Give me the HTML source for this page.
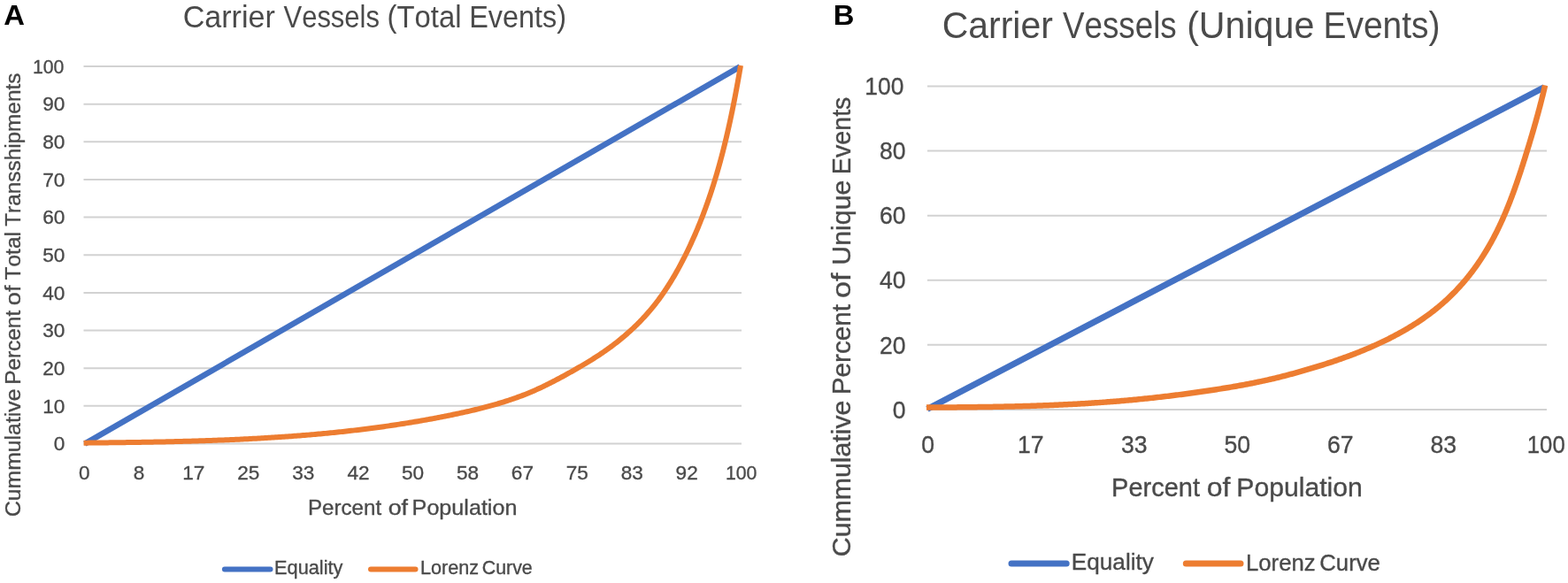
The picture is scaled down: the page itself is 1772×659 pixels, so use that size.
<!DOCTYPE html>
<html><head><meta charset="utf-8"><title>Carrier Vessels Lorenz Curves</title>
<style>
html,body{margin:0;padding:0;background:#fff;}
body{width:1772px;height:659px;overflow:hidden;}
svg{display:block;}
text{font-family:'Liberation Sans', Arial, sans-serif;fill:#4a4a4a;font-kerning:none;}
.ta{font-size:21.8px;}
.tb{font-size:26.5px;}
</style></head>
<body>
<svg width="1772" height="659" viewBox="0 0 1772 659">
<rect width="1772" height="659" fill="#fff"/>
<line x1="94.5" y1="75.00" x2="838.0" y2="75.00" stroke="#d2d2d2" stroke-width="2"/>
<line x1="94.5" y1="117.65" x2="838.0" y2="117.65" stroke="#d2d2d2" stroke-width="2"/>
<line x1="94.5" y1="160.30" x2="838.0" y2="160.30" stroke="#d2d2d2" stroke-width="2"/>
<line x1="94.5" y1="202.95" x2="838.0" y2="202.95" stroke="#d2d2d2" stroke-width="2"/>
<line x1="94.5" y1="245.60" x2="838.0" y2="245.60" stroke="#d2d2d2" stroke-width="2"/>
<line x1="94.5" y1="288.25" x2="838.0" y2="288.25" stroke="#d2d2d2" stroke-width="2"/>
<line x1="94.5" y1="330.90" x2="838.0" y2="330.90" stroke="#d2d2d2" stroke-width="2"/>
<line x1="94.5" y1="373.55" x2="838.0" y2="373.55" stroke="#d2d2d2" stroke-width="2"/>
<line x1="94.5" y1="416.20" x2="838.0" y2="416.20" stroke="#d2d2d2" stroke-width="2"/>
<line x1="94.5" y1="458.85" x2="838.0" y2="458.85" stroke="#d2d2d2" stroke-width="2"/>
<line x1="94.5" y1="501.50" x2="838.0" y2="501.50" stroke="#d2d2d2" stroke-width="2"/>
<text x="36.99" y="82.78" style="font-size:22.6px;stroke:#4a4a4a;stroke-width:0.35px" textLength="35.44" lengthAdjust="spacingAndGlyphs">100</text>
<text x="48.14" y="125.43" style="font-size:22.6px;stroke:#4a4a4a;stroke-width:0.35px" textLength="25.14" lengthAdjust="spacingAndGlyphs">90</text>
<text x="48.14" y="168.08" style="font-size:22.6px;stroke:#4a4a4a;stroke-width:0.35px" textLength="25.14" lengthAdjust="spacingAndGlyphs">80</text>
<text x="48.14" y="210.73" style="font-size:22.6px;stroke:#4a4a4a;stroke-width:0.35px" textLength="25.14" lengthAdjust="spacingAndGlyphs">70</text>
<text x="48.14" y="253.38" style="font-size:22.6px;stroke:#4a4a4a;stroke-width:0.35px" textLength="25.14" lengthAdjust="spacingAndGlyphs">60</text>
<text x="48.14" y="296.03" style="font-size:22.6px;stroke:#4a4a4a;stroke-width:0.35px" textLength="25.14" lengthAdjust="spacingAndGlyphs">50</text>
<text x="48.14" y="338.68" style="font-size:22.6px;stroke:#4a4a4a;stroke-width:0.35px" textLength="25.14" lengthAdjust="spacingAndGlyphs">40</text>
<text x="48.14" y="381.33" style="font-size:22.6px;stroke:#4a4a4a;stroke-width:0.35px" textLength="25.14" lengthAdjust="spacingAndGlyphs">30</text>
<text x="48.14" y="423.98" style="font-size:22.6px;stroke:#4a4a4a;stroke-width:0.35px" textLength="25.14" lengthAdjust="spacingAndGlyphs">20</text>
<text x="48.14" y="466.63" style="font-size:22.6px;stroke:#4a4a4a;stroke-width:0.35px" textLength="25.14" lengthAdjust="spacingAndGlyphs">10</text>
<text x="60.71" y="509.28" style="font-size:22.6px;stroke:#4a4a4a;stroke-width:0.35px" textLength="12.57" lengthAdjust="spacingAndGlyphs">0</text>
<text x="88.92" y="541.58" style="font-size:22.6px;stroke:#4a4a4a;stroke-width:0.35px" textLength="12.57" lengthAdjust="spacingAndGlyphs">0</text>
<text x="150.82" y="541.58" style="font-size:22.6px;stroke:#4a4a4a;stroke-width:0.35px" textLength="12.57" lengthAdjust="spacingAndGlyphs">8</text>
<text x="206.14" y="541.58" style="font-size:22.6px;stroke:#4a4a4a;stroke-width:0.35px" textLength="25.14" lengthAdjust="spacingAndGlyphs">17</text>
<text x="268.24" y="541.58" style="font-size:22.6px;stroke:#4a4a4a;stroke-width:0.35px" textLength="25.14" lengthAdjust="spacingAndGlyphs">25</text>
<text x="330.30" y="541.58" style="font-size:22.6px;stroke:#4a4a4a;stroke-width:0.35px" textLength="25.14" lengthAdjust="spacingAndGlyphs">33</text>
<text x="392.44" y="541.58" style="font-size:22.6px;stroke:#4a4a4a;stroke-width:0.35px" textLength="25.14" lengthAdjust="spacingAndGlyphs">42</text>
<text x="454.02" y="541.58" style="font-size:22.6px;stroke:#4a4a4a;stroke-width:0.35px" textLength="25.14" lengthAdjust="spacingAndGlyphs">50</text>
<text x="515.97" y="541.58" style="font-size:22.6px;stroke:#4a4a4a;stroke-width:0.35px" textLength="25.14" lengthAdjust="spacingAndGlyphs">58</text>
<text x="577.83" y="541.58" style="font-size:22.6px;stroke:#4a4a4a;stroke-width:0.35px" textLength="25.14" lengthAdjust="spacingAndGlyphs">67</text>
<text x="639.63" y="541.58" style="font-size:22.6px;stroke:#4a4a4a;stroke-width:0.35px" textLength="25.14" lengthAdjust="spacingAndGlyphs">75</text>
<text x="701.64" y="541.58" style="font-size:22.6px;stroke:#4a4a4a;stroke-width:0.35px" textLength="25.14" lengthAdjust="spacingAndGlyphs">83</text>
<text x="763.57" y="541.58" style="font-size:22.6px;stroke:#4a4a4a;stroke-width:0.35px" textLength="25.14" lengthAdjust="spacingAndGlyphs">92</text>
<text x="819.88" y="541.58" style="font-size:22.6px;stroke:#4a4a4a;stroke-width:0.35px" textLength="35.44" lengthAdjust="spacingAndGlyphs">100</text>
<text x="206.67" y="30.90" style="font-size:35.5px" textLength="104.20" lengthAdjust="spacingAndGlyphs">Carrier</text>
<text x="320.56" y="30.90" style="font-size:35.5px" textLength="108.35" lengthAdjust="spacingAndGlyphs">Vessels</text>
<text x="437.46" y="30.90" style="font-size:35.5px" textLength="84.04" lengthAdjust="spacingAndGlyphs">(Total</text>
<text x="530.24" y="30.90" style="font-size:35.5px" textLength="109.87" lengthAdjust="spacingAndGlyphs">Events)</text>
<text x="348.02" y="581.80" style="font-size:24.8px;stroke:#4a4a4a;stroke-width:0.35px" textLength="83.16" lengthAdjust="spacingAndGlyphs">Percent</text>
<text x="438.67" y="581.80" style="font-size:24.8px;stroke:#4a4a4a;stroke-width:0.35px" textLength="22.39" lengthAdjust="spacingAndGlyphs">of</text>
<text x="465.64" y="581.80" style="font-size:24.8px;stroke:#4a4a4a;stroke-width:0.35px" textLength="118.79" lengthAdjust="spacingAndGlyphs">Population</text>
<text transform="translate(22.60,0) rotate(-90)" x="-584.06" y="0" style="font-size:24.8px;stroke:#4a4a4a;stroke-width:0.35px" textLength="144.46" lengthAdjust="spacingAndGlyphs">Cummulative</text>
<text transform="translate(22.60,0) rotate(-90)" x="-434.80" y="0" style="font-size:24.8px;stroke:#4a4a4a;stroke-width:0.35px" textLength="83.98" lengthAdjust="spacingAndGlyphs">Percent</text>
<text transform="translate(22.60,0) rotate(-90)" x="-345.24" y="0" style="font-size:24.8px;stroke:#4a4a4a;stroke-width:0.35px" textLength="22.70" lengthAdjust="spacingAndGlyphs">of</text>
<text transform="translate(22.60,0) rotate(-90)" x="-316.45" y="0" style="font-size:24.8px;stroke:#4a4a4a;stroke-width:0.35px" textLength="54.39" lengthAdjust="spacingAndGlyphs">Total</text>
<text transform="translate(22.60,0) rotate(-90)" x="-255.75" y="0" style="font-size:24.8px;stroke:#4a4a4a;stroke-width:0.35px" textLength="173.13" lengthAdjust="spacingAndGlyphs">Transshipments</text>
<line x1="95.8" y1="501.6" x2="836.3" y2="75.4" stroke="#4472c4" stroke-width="6.5"/>
<path d="M94.60,500.68 L96.54,500.66 L98.48,500.64 L100.43,500.62 L102.37,500.60 L104.31,500.58 L106.26,500.56 L108.20,500.54 L110.15,500.52 L112.09,500.50 L114.04,500.48 L115.98,500.46 L117.93,500.44 L119.88,500.41 L121.82,500.39 L123.77,500.37 L125.72,500.35 L127.66,500.32 L129.61,500.30 L131.56,500.27 L133.51,500.25 L135.46,500.22 L137.40,500.20 L139.35,500.17 L141.30,500.15 L143.25,500.12 L145.20,500.09 L147.15,500.06 L149.10,500.04 L151.05,500.01 L153.00,499.98 L154.95,499.95 L156.90,499.92 L158.85,499.89 L160.81,499.85 L162.76,499.82 L164.71,499.79 L166.66,499.76 L168.61,499.72 L170.56,499.69 L172.52,499.65 L174.47,499.61 L176.42,499.58 L178.37,499.54 L180.33,499.50 L182.28,499.46 L184.23,499.42 L186.19,499.38 L188.14,499.34 L190.09,499.29 L192.05,499.25 L194.00,499.21 L195.96,499.16 L197.91,499.12 L199.86,499.07 L201.82,499.02 L203.77,498.97 L205.73,498.92 L207.68,498.87 L209.64,498.82 L211.59,498.76 L213.55,498.71 L215.50,498.66 L217.45,498.60 L219.41,498.54 L221.36,498.48 L223.32,498.42 L225.27,498.36 L227.23,498.30 L229.18,498.24 L231.14,498.18 L233.10,498.11 L235.05,498.04 L237.01,497.98 L238.96,497.91 L240.92,497.84 L242.87,497.77 L244.83,497.69 L246.78,497.62 L248.74,497.54 L250.69,497.47 L252.65,497.39 L254.60,497.31 L256.56,497.23 L258.51,497.15 L260.47,497.06 L262.42,496.98 L264.38,496.89 L266.33,496.81 L268.29,496.72 L270.24,496.63 L272.20,496.53 L274.15,496.44 L276.11,496.35 L278.06,496.25 L280.01,496.15 L281.97,496.05 L283.92,495.95 L285.88,495.85 L287.83,495.74 L289.78,495.64 L291.74,495.53 L293.69,495.42 L295.65,495.31 L297.60,495.19 L299.55,495.08 L301.51,494.96 L303.46,494.85 L305.41,494.73 L307.36,494.60 L309.32,494.48 L311.27,494.36 L313.22,494.23 L315.17,494.10 L317.13,493.97 L319.08,493.84 L321.03,493.70 L322.98,493.57 L324.93,493.43 L326.88,493.29 L328.83,493.15 L330.78,493.00 L332.73,492.86 L334.68,492.71 L336.63,492.56 L338.58,492.41 L340.53,492.25 L342.48,492.10 L344.43,491.94 L346.38,491.78 L348.33,491.62 L350.28,491.45 L352.23,491.29 L354.17,491.12 L356.12,490.95 L358.07,490.77 L360.02,490.60 L361.96,490.42 L363.91,490.24 L365.86,490.06 L367.80,489.88 L369.75,489.69 L371.69,489.50 L373.64,489.31 L375.58,489.12 L377.53,488.92 L379.47,488.72 L381.41,488.52 L383.36,488.32 L385.30,488.12 L387.24,487.91 L389.19,487.70 L391.13,487.49 L393.07,487.27 L395.01,487.05 L396.95,486.84 L398.89,486.61 L400.83,486.39 L402.77,486.16 L404.71,485.93 L406.65,485.70 L408.59,485.47 L410.53,485.23 L412.47,484.99 L414.41,484.75 L416.34,484.50 L418.28,484.25 L420.22,484.00 L422.15,483.75 L424.09,483.49 L426.02,483.23 L427.96,482.97 L429.89,482.71 L431.83,482.44 L433.76,482.17 L435.69,481.90 L437.63,481.63 L439.56,481.35 L441.49,481.07 L443.42,480.78 L445.35,480.50 L447.28,480.21 L449.21,479.91 L451.14,479.62 L453.07,479.32 L455.00,479.02 L456.93,478.72 L458.85,478.41 L460.78,478.10 L462.71,477.79 L464.63,477.47 L466.56,477.15 L468.48,476.83 L470.41,476.50 L472.33,476.18 L474.25,475.84 L476.18,475.51 L478.10,475.17 L480.02,474.83 L481.94,474.49 L483.86,474.14 L485.78,473.79 L487.70,473.44 L489.62,473.08 L491.54,472.72 L493.45,472.36 L495.37,471.99 L497.29,471.62 L499.20,471.25 L501.12,470.87 L503.03,470.49 L504.95,470.11 L506.86,469.72 L508.77,469.33 L510.69,468.94 L512.60,468.54 L514.51,468.15 L516.42,467.74 L518.33,467.33 L520.24,466.92 L522.15,466.51 L524.05,466.09 L525.96,465.67 L527.86,465.24 L529.77,464.81 L531.67,464.37 L533.57,463.93 L535.47,463.48 L537.37,463.03 L539.27,462.57 L541.16,462.11 L543.05,461.64 L544.95,461.16 L546.84,460.68 L548.72,460.19 L550.61,459.69 L552.49,459.18 L554.37,458.67 L556.25,458.15 L558.13,457.63 L560.00,457.09 L561.87,456.55 L563.74,456.00 L565.61,455.44 L567.47,454.88 L569.33,454.30 L571.19,453.72 L573.04,453.12 L574.89,452.52 L576.74,451.90 L578.58,451.28 L580.42,450.65 L582.26,450.01 L584.10,449.35 L585.93,448.69 L587.75,448.01 L589.58,447.33 L591.39,446.63 L593.21,445.92 L595.02,445.20 L596.83,444.47 L598.63,443.73 L600.43,442.97 L602.22,442.20 L604.01,441.42 L605.80,440.63 L607.58,439.83 L609.35,439.01 L611.13,438.19 L612.89,437.35 L614.66,436.51 L616.42,435.65 L618.18,434.79 L619.93,433.92 L621.68,433.04 L623.43,432.15 L625.17,431.25 L626.91,430.35 L628.64,429.44 L630.38,428.52 L632.11,427.60 L633.83,426.67 L635.56,425.74 L637.28,424.80 L639.00,423.85 L640.71,422.91 L642.43,421.96 L644.14,421.00 L645.85,420.05 L647.55,419.09 L649.25,418.12 L650.95,417.15 L652.65,416.18 L654.34,415.21 L656.03,414.23 L657.72,413.24 L659.40,412.25 L661.08,411.25 L662.75,410.25 L664.42,409.24 L666.08,408.23 L667.74,407.20 L669.39,406.17 L671.04,405.14 L672.68,404.09 L674.32,403.04 L675.95,401.98 L677.58,400.91 L679.20,399.83 L680.81,398.74 L682.41,397.64 L684.01,396.53 L685.60,395.41 L687.19,394.28 L688.76,393.14 L690.33,391.99 L691.89,390.83 L693.44,389.66 L694.99,388.48 L696.53,387.29 L698.06,386.09 L699.58,384.87 L701.09,383.65 L702.59,382.41 L704.09,381.17 L705.57,379.91 L707.05,378.65 L708.52,377.37 L709.97,376.09 L711.42,374.79 L712.86,373.48 L714.29,372.16 L715.71,370.83 L717.12,369.49 L718.52,368.14 L719.90,366.78 L721.28,365.41 L722.65,364.03 L724.00,362.64 L725.35,361.24 L726.68,359.82 L728.01,358.40 L729.32,356.97 L730.62,355.52 L731.91,354.06 L733.19,352.60 L734.45,351.12 L735.70,349.63 L736.95,348.14 L738.17,346.63 L739.39,345.11 L740.60,343.58 L741.79,342.04 L742.97,340.49 L744.14,338.93 L745.30,337.36 L746.44,335.79 L747.58,334.20 L748.70,332.61 L749.81,331.00 L750.91,329.39 L752.01,327.77 L753.09,326.14 L754.16,324.51 L755.21,322.87 L756.26,321.21 L757.30,319.56 L758.33,317.89 L759.35,316.22 L760.36,314.54 L761.36,312.86 L762.35,311.17 L763.33,309.48 L764.30,307.77 L765.27,306.07 L766.22,304.35 L767.16,302.64 L768.10,300.92 L769.03,299.19 L769.95,297.46 L770.86,295.72 L771.76,293.98 L772.65,292.24 L773.54,290.49 L774.42,288.74 L775.29,286.99 L776.15,285.23 L777.01,283.47 L777.85,281.71 L778.69,279.95 L779.53,278.18 L780.35,276.41 L781.17,274.63 L781.98,272.86 L782.79,271.08 L783.58,269.29 L784.37,267.51 L785.15,265.72 L785.93,263.93 L786.70,262.13 L787.46,260.34 L788.21,258.54 L788.96,256.74 L789.70,254.93 L790.44,253.13 L791.16,251.32 L791.88,249.50 L792.60,247.69 L793.31,245.87 L794.01,244.05 L794.70,242.23 L795.39,240.41 L796.07,238.58 L796.75,236.75 L797.42,234.92 L798.08,233.09 L798.74,231.25 L799.39,229.41 L800.04,227.58 L800.68,225.73 L801.31,223.89 L801.94,222.04 L802.56,220.19 L803.18,218.34 L803.79,216.49 L804.39,214.64 L804.99,212.78 L805.58,210.92 L806.17,209.06 L806.75,207.20 L807.33,205.34 L807.90,203.47 L808.47,201.61 L809.03,199.74 L809.59,197.87 L810.14,196.00 L810.68,194.12 L811.23,192.25 L811.76,190.37 L812.29,188.49 L812.82,186.61 L813.34,184.73 L813.86,182.85 L814.37,180.96 L814.87,179.08 L815.38,177.19 L815.87,175.30 L816.37,173.41 L816.86,171.52 L817.34,169.63 L817.82,167.73 L818.30,165.84 L818.77,163.94 L819.23,162.04 L819.70,160.15 L820.16,158.25 L820.61,156.35 L821.06,154.45 L821.51,152.54 L821.95,150.64 L822.39,148.73 L822.82,146.83 L823.26,144.92 L823.68,143.02 L824.11,141.11 L824.53,139.20 L824.94,137.29 L825.36,135.38 L825.77,133.47 L826.17,131.56 L826.58,129.64 L826.98,127.73 L827.37,125.82 L827.76,123.90 L828.15,121.99 L828.54,120.07 L828.92,118.16 L829.31,116.24 L829.68,114.33 L830.06,112.41 L830.43,110.49 L830.80,108.57 L831.17,106.66 L831.53,104.74 L831.89,102.82 L832.25,100.90 L832.60,98.98 L832.96,97.06 L833.31,95.14 L833.66,93.22 L834.00,91.31 L834.35,89.39 L834.69,87.47 L835.03,85.55 L835.36,83.63 L835.70,81.71 L836.03,79.79 L836.36,77.87 L836.69,75.95 L837.02,74.03" fill="none" stroke="#ed7d31" stroke-width="6" stroke-linejoin="round"/>
<line x1="253.9" y1="643.5" x2="305.5" y2="643.5" stroke="#4472c4" stroke-width="6" stroke-linecap="round"/>
<text x="310.12" y="649.40" style="font-size:21.5px;stroke:#4a4a4a;stroke-width:0.35px" textLength="77.33" lengthAdjust="spacingAndGlyphs">Equality</text>
<line x1="419" y1="643.5" x2="469.5" y2="643.5" stroke="#ed7d31" stroke-width="6" stroke-linecap="round"/>
<text x="474.93" y="649.30" style="font-size:21.5px;stroke:#4a4a4a;stroke-width:0.35px" textLength="66.05" lengthAdjust="spacingAndGlyphs">Lorenz</text>
<text x="544.71" y="649.30" style="font-size:21.5px;stroke:#4a4a4a;stroke-width:0.35px" textLength="57.04" lengthAdjust="spacingAndGlyphs">Curve</text>
<text x="4.18" y="28.00" style="font-size:31.5px;font-weight:bold;fill:#000" textLength="23.68" lengthAdjust="spacingAndGlyphs">A</text>
<line x1="1048.0" y1="97.50" x2="1748.0" y2="97.50" stroke="#d2d2d2" stroke-width="2"/>
<line x1="1048.0" y1="170.58" x2="1748.0" y2="170.58" stroke="#d2d2d2" stroke-width="2"/>
<line x1="1048.0" y1="243.66" x2="1748.0" y2="243.66" stroke="#d2d2d2" stroke-width="2"/>
<line x1="1048.0" y1="316.74" x2="1748.0" y2="316.74" stroke="#d2d2d2" stroke-width="2"/>
<line x1="1048.0" y1="389.82" x2="1748.0" y2="389.82" stroke="#d2d2d2" stroke-width="2"/>
<line x1="1048.0" y1="462.90" x2="1748.0" y2="462.90" stroke="#d2d2d2" stroke-width="2"/>
<text x="977.29" y="107.24" style="font-size:28.3px;stroke:#4a4a4a;stroke-width:0.35px" textLength="44.15" lengthAdjust="spacingAndGlyphs">100</text>
<text x="994.05" y="180.32" style="font-size:28.3px;stroke:#4a4a4a;stroke-width:0.35px" textLength="29.59" lengthAdjust="spacingAndGlyphs">80</text>
<text x="994.05" y="253.40" style="font-size:28.3px;stroke:#4a4a4a;stroke-width:0.35px" textLength="29.59" lengthAdjust="spacingAndGlyphs">60</text>
<text x="994.05" y="326.48" style="font-size:28.3px;stroke:#4a4a4a;stroke-width:0.35px" textLength="29.59" lengthAdjust="spacingAndGlyphs">40</text>
<text x="994.05" y="399.56" style="font-size:28.3px;stroke:#4a4a4a;stroke-width:0.35px" textLength="29.59" lengthAdjust="spacingAndGlyphs">20</text>
<text x="1008.84" y="472.64" style="font-size:28.3px;stroke:#4a4a4a;stroke-width:0.35px" textLength="14.79" lengthAdjust="spacingAndGlyphs">0</text>
<text x="1041.30" y="512.04" style="font-size:28.3px;stroke:#4a4a4a;stroke-width:0.35px" textLength="14.79" lengthAdjust="spacingAndGlyphs">0</text>
<text x="1150.06" y="512.04" style="font-size:28.3px;stroke:#4a4a4a;stroke-width:0.35px" textLength="29.59" lengthAdjust="spacingAndGlyphs">17</text>
<text x="1266.98" y="512.04" style="font-size:28.3px;stroke:#4a4a4a;stroke-width:0.35px" textLength="29.59" lengthAdjust="spacingAndGlyphs">33</text>
<text x="1383.39" y="512.04" style="font-size:28.3px;stroke:#4a4a4a;stroke-width:0.35px" textLength="29.59" lengthAdjust="spacingAndGlyphs">50</text>
<text x="1499.90" y="512.04" style="font-size:28.3px;stroke:#4a4a4a;stroke-width:0.35px" textLength="29.59" lengthAdjust="spacingAndGlyphs">67</text>
<text x="1616.41" y="512.04" style="font-size:28.3px;stroke:#4a4a4a;stroke-width:0.35px" textLength="29.59" lengthAdjust="spacingAndGlyphs">83</text>
<text x="1725.74" y="512.04" style="font-size:28.3px;stroke:#4a4a4a;stroke-width:0.35px" textLength="42.97" lengthAdjust="spacingAndGlyphs">100</text>
<text x="1064.72" y="43.30" style="font-size:42.5px" textLength="125.16" lengthAdjust="spacingAndGlyphs">Carrier</text>
<text x="1200.94" y="43.30" style="font-size:42.5px" textLength="128.79" lengthAdjust="spacingAndGlyphs">Vessels</text>
<text x="1341.15" y="43.30" style="font-size:42.5px" textLength="144.18" lengthAdjust="spacingAndGlyphs">(Unique</text>
<text x="1495.51" y="43.30" style="font-size:42.5px" textLength="132.01" lengthAdjust="spacingAndGlyphs">Events)</text>
<text x="1256.12" y="560.90" style="font-size:29.6px;stroke:#4a4a4a;stroke-width:0.35px" textLength="99.89" lengthAdjust="spacingAndGlyphs">Percent</text>
<text x="1363.76" y="560.90" style="font-size:29.6px;stroke:#4a4a4a;stroke-width:0.35px" textLength="26.70" lengthAdjust="spacingAndGlyphs">of</text>
<text x="1397.33" y="560.90" style="font-size:29.6px;stroke:#4a4a4a;stroke-width:0.35px" textLength="142.43" lengthAdjust="spacingAndGlyphs">Population</text>
<text transform="translate(961.30,0) rotate(-90)" x="-629.24" y="0" style="font-size:29.6px;stroke:#4a4a4a;stroke-width:0.35px" textLength="176.68" lengthAdjust="spacingAndGlyphs">Cummulative</text>
<text transform="translate(961.30,0) rotate(-90)" x="-446.24" y="0" style="font-size:29.6px;stroke:#4a4a4a;stroke-width:0.35px" textLength="102.35" lengthAdjust="spacingAndGlyphs">Percent</text>
<text transform="translate(961.30,0) rotate(-90)" x="-337.03" y="0" style="font-size:29.6px;stroke:#4a4a4a;stroke-width:0.35px" textLength="28.48" lengthAdjust="spacingAndGlyphs">of</text>
<text transform="translate(961.30,0) rotate(-90)" x="-299.74" y="0" style="font-size:29.6px;stroke:#4a4a4a;stroke-width:0.35px" textLength="96.09" lengthAdjust="spacingAndGlyphs">Unique</text>
<text transform="translate(961.30,0) rotate(-90)" x="-197.15" y="0" style="font-size:29.6px;stroke:#4a4a4a;stroke-width:0.35px" textLength="87.59" lengthAdjust="spacingAndGlyphs">Events</text>
<line x1="1048" y1="462.3" x2="1745.2" y2="98.6" stroke="#4472c4" stroke-width="7"/>
<path d="M1047.00,460.57 L1048.76,460.57 L1050.53,460.56 L1052.30,460.55 L1054.07,460.54 L1055.84,460.54 L1057.61,460.53 L1059.38,460.52 L1061.14,460.51 L1062.91,460.50 L1064.68,460.49 L1066.45,460.48 L1068.22,460.47 L1069.99,460.46 L1071.75,460.44 L1073.52,460.43 L1075.29,460.42 L1077.06,460.41 L1078.83,460.39 L1080.60,460.38 L1082.37,460.36 L1084.13,460.35 L1085.90,460.33 L1087.67,460.32 L1089.44,460.30 L1091.21,460.28 L1092.97,460.27 L1094.74,460.25 L1096.51,460.23 L1098.28,460.21 L1100.05,460.19 L1101.82,460.17 L1103.58,460.14 L1105.35,460.12 L1107.12,460.10 L1108.89,460.07 L1110.66,460.05 L1112.42,460.02 L1114.19,460.00 L1115.96,459.97 L1117.73,459.94 L1119.50,459.91 L1121.26,459.88 L1123.03,459.85 L1124.80,459.82 L1126.57,459.79 L1128.33,459.76 L1130.10,459.72 L1131.87,459.69 L1133.64,459.65 L1135.40,459.62 L1137.17,459.58 L1138.94,459.54 L1140.71,459.50 L1142.47,459.46 L1144.24,459.42 L1146.01,459.38 L1147.78,459.33 L1149.54,459.29 L1151.31,459.24 L1153.08,459.19 L1154.84,459.15 L1156.61,459.10 L1158.38,459.05 L1160.14,458.99 L1161.91,458.94 L1163.68,458.89 L1165.44,458.83 L1167.21,458.78 L1168.98,458.72 L1170.74,458.66 L1172.51,458.60 L1174.28,458.54 L1176.04,458.48 L1177.81,458.41 L1179.57,458.35 L1181.34,458.28 L1183.11,458.21 L1184.87,458.14 L1186.64,458.07 L1188.40,458.00 L1190.17,457.93 L1191.93,457.85 L1193.70,457.78 L1195.47,457.70 L1197.23,457.62 L1199.00,457.54 L1200.76,457.46 L1202.53,457.37 L1204.29,457.29 L1206.06,457.20 L1207.82,457.11 L1209.59,457.02 L1211.35,456.93 L1213.12,456.84 L1214.88,456.74 L1216.65,456.65 L1218.41,456.55 L1220.17,456.45 L1221.94,456.35 L1223.70,456.25 L1225.47,456.14 L1227.23,456.04 L1228.99,455.93 L1230.76,455.82 L1232.52,455.71 L1234.29,455.59 L1236.05,455.48 L1237.81,455.36 L1239.58,455.24 L1241.34,455.12 L1243.10,455.00 L1244.87,454.88 L1246.63,454.75 L1248.39,454.62 L1250.15,454.49 L1251.92,454.36 L1253.68,454.23 L1255.44,454.09 L1257.20,453.96 L1258.97,453.82 L1260.73,453.68 L1262.49,453.53 L1264.25,453.39 L1266.01,453.24 L1267.78,453.09 L1269.54,452.94 L1271.30,452.79 L1273.06,452.63 L1274.82,452.47 L1276.58,452.31 L1278.34,452.15 L1280.10,451.99 L1281.86,451.82 L1283.63,451.65 L1285.39,451.48 L1287.15,451.31 L1288.91,451.14 L1290.67,450.96 L1292.43,450.78 L1294.18,450.60 L1295.94,450.42 L1297.70,450.24 L1299.46,450.05 L1301.22,449.86 L1302.98,449.67 L1304.74,449.48 L1306.50,449.29 L1308.25,449.09 L1310.01,448.89 L1311.77,448.69 L1313.53,448.49 L1315.28,448.29 L1317.04,448.08 L1318.80,447.87 L1320.55,447.66 L1322.31,447.45 L1324.07,447.24 L1325.82,447.02 L1327.58,446.80 L1329.33,446.58 L1331.09,446.36 L1332.84,446.14 L1334.59,445.91 L1336.35,445.68 L1338.10,445.45 L1339.86,445.22 L1341.61,444.99 L1343.36,444.75 L1345.11,444.51 L1346.87,444.27 L1348.62,444.03 L1350.37,443.79 L1352.12,443.54 L1353.87,443.30 L1355.62,443.05 L1357.37,442.80 L1359.12,442.54 L1360.87,442.29 L1362.62,442.03 L1364.37,441.78 L1366.11,441.51 L1367.86,441.25 L1369.61,440.99 L1371.36,440.72 L1373.10,440.45 L1374.85,440.18 L1376.59,439.91 L1378.34,439.64 L1380.08,439.36 L1381.83,439.08 L1383.57,438.80 L1385.31,438.51 L1387.06,438.22 L1388.80,437.93 L1390.54,437.64 L1392.28,437.34 L1394.02,437.04 L1395.76,436.74 L1397.50,436.44 L1399.24,436.13 L1400.97,435.82 L1402.71,435.50 L1404.45,435.18 L1406.18,434.86 L1407.92,434.53 L1409.65,434.20 L1411.38,433.87 L1413.11,433.53 L1414.85,433.19 L1416.58,432.85 L1418.30,432.50 L1420.03,432.14 L1421.76,431.79 L1423.49,431.43 L1425.21,431.06 L1426.94,430.69 L1428.66,430.31 L1430.39,429.94 L1432.11,429.55 L1433.83,429.16 L1435.55,428.77 L1437.27,428.37 L1438.98,427.97 L1440.70,427.56 L1442.42,427.15 L1444.13,426.73 L1445.84,426.30 L1447.56,425.88 L1449.27,425.44 L1450.98,425.01 L1452.69,424.57 L1454.40,424.12 L1456.11,423.67 L1457.81,423.22 L1459.52,422.76 L1461.23,422.30 L1462.93,421.83 L1464.63,421.36 L1466.34,420.89 L1468.04,420.41 L1469.74,419.93 L1471.44,419.45 L1473.14,418.96 L1474.84,418.47 L1476.54,417.98 L1478.24,417.48 L1479.94,416.98 L1481.64,416.48 L1483.33,415.97 L1485.03,415.46 L1486.73,414.94 L1488.42,414.43 L1490.11,413.91 L1491.80,413.38 L1493.50,412.85 L1495.19,412.32 L1496.87,411.78 L1498.56,411.24 L1500.25,410.70 L1501.93,410.15 L1503.62,409.59 L1505.30,409.04 L1506.98,408.47 L1508.66,407.91 L1510.33,407.33 L1512.01,406.76 L1513.68,406.18 L1515.36,405.59 L1517.03,405.00 L1518.69,404.41 L1520.36,403.80 L1522.02,403.20 L1523.69,402.59 L1525.35,401.97 L1527.00,401.35 L1528.66,400.72 L1530.31,400.09 L1531.96,399.45 L1533.61,398.81 L1535.26,398.16 L1536.90,397.50 L1538.55,396.84 L1540.18,396.17 L1541.82,395.50 L1543.45,394.82 L1545.08,394.13 L1546.71,393.44 L1548.34,392.74 L1549.96,392.04 L1551.58,391.32 L1553.19,390.61 L1554.81,389.88 L1556.42,389.15 L1558.02,388.41 L1559.63,387.67 L1561.23,386.91 L1562.82,386.15 L1564.42,385.39 L1566.01,384.61 L1567.59,383.83 L1569.17,383.04 L1570.75,382.25 L1572.33,381.45 L1573.90,380.63 L1575.47,379.82 L1577.03,378.99 L1578.59,378.16 L1580.15,377.31 L1581.70,376.46 L1583.24,375.61 L1584.79,374.74 L1586.32,373.87 L1587.86,372.98 L1589.38,372.09 L1590.90,371.20 L1592.42,370.29 L1593.93,369.37 L1595.44,368.45 L1596.94,367.51 L1598.43,366.57 L1599.92,365.62 L1601.40,364.66 L1602.88,363.69 L1604.35,362.72 L1605.81,361.73 L1607.27,360.73 L1608.72,359.73 L1610.17,358.71 L1611.60,357.69 L1613.03,356.66 L1614.46,355.61 L1615.87,354.56 L1617.28,353.50 L1618.68,352.43 L1620.08,351.34 L1621.46,350.25 L1622.84,349.15 L1624.21,348.04 L1625.57,346.92 L1626.93,345.78 L1628.27,344.64 L1629.61,343.49 L1630.94,342.33 L1632.26,341.15 L1633.57,339.97 L1634.87,338.78 L1636.17,337.58 L1637.45,336.37 L1638.73,335.14 L1639.99,333.91 L1641.25,332.67 L1642.50,331.42 L1643.74,330.17 L1644.97,328.90 L1646.19,327.62 L1647.40,326.34 L1648.61,325.04 L1649.80,323.74 L1650.98,322.43 L1652.15,321.10 L1653.32,319.78 L1654.47,318.44 L1655.61,317.09 L1656.75,315.74 L1657.87,314.37 L1658.98,313.00 L1660.09,311.62 L1661.18,310.24 L1662.26,308.84 L1663.33,307.44 L1664.40,306.03 L1665.45,304.61 L1666.50,303.19 L1667.53,301.76 L1668.55,300.32 L1669.57,298.87 L1670.57,297.42 L1671.57,295.96 L1672.56,294.50 L1673.53,293.02 L1674.50,291.55 L1675.46,290.06 L1676.41,288.57 L1677.35,287.07 L1678.28,285.57 L1679.20,284.06 L1680.11,282.55 L1681.01,281.03 L1681.90,279.51 L1682.79,277.98 L1683.66,276.44 L1684.53,274.90 L1685.39,273.36 L1686.23,271.81 L1687.07,270.25 L1687.90,268.69 L1688.72,267.13 L1689.54,265.56 L1690.34,263.99 L1691.14,262.41 L1691.92,260.83 L1692.70,259.25 L1693.47,257.66 L1694.24,256.06 L1694.99,254.47 L1695.74,252.87 L1696.48,251.26 L1697.21,249.66 L1697.93,248.05 L1698.65,246.43 L1699.36,244.81 L1700.06,243.19 L1700.76,241.57 L1701.45,239.94 L1702.13,238.31 L1702.81,236.68 L1703.48,235.04 L1704.14,233.40 L1704.80,231.76 L1705.45,230.12 L1706.10,228.47 L1706.74,226.82 L1707.37,225.17 L1708.00,223.51 L1708.63,221.86 L1709.24,220.20 L1709.86,218.54 L1710.47,216.87 L1711.07,215.21 L1711.67,213.54 L1712.26,211.87 L1712.85,210.20 L1713.44,208.53 L1714.02,206.85 L1714.60,205.18 L1715.17,203.50 L1715.74,201.82 L1716.31,200.14 L1716.87,198.46 L1717.43,196.78 L1717.99,195.10 L1718.54,193.41 L1719.09,191.73 L1719.64,190.04 L1720.18,188.36 L1720.73,186.67 L1721.27,184.98 L1721.80,183.29 L1722.34,181.60 L1722.87,179.91 L1723.40,178.22 L1723.93,176.53 L1724.46,174.84 L1724.98,173.15 L1725.50,171.46 L1726.03,169.77 L1726.55,168.08 L1727.06,166.39 L1727.58,164.70 L1728.09,163.01 L1728.60,161.31 L1729.11,159.62 L1729.62,157.93 L1730.12,156.23 L1730.63,154.54 L1731.13,152.85 L1731.62,151.15 L1732.12,149.46 L1732.61,147.76 L1733.10,146.06 L1733.59,144.37 L1734.08,142.67 L1734.56,140.97 L1735.04,139.27 L1735.52,137.58 L1735.99,135.88 L1736.47,134.18 L1736.94,132.48 L1737.40,130.77 L1737.87,129.07 L1738.33,127.37 L1738.79,125.67 L1739.24,123.96 L1739.69,122.26 L1740.14,120.55 L1740.59,118.85 L1741.03,117.14 L1741.47,115.44 L1741.91,113.73 L1742.34,112.02 L1742.77,110.31 L1743.20,108.60 L1743.63,106.89 L1744.05,105.18 L1744.46,103.46 L1744.88,101.75 L1745.29,100.03 L1745.69,98.32 L1746.10,96.60" fill="none" stroke="#ed7d31" stroke-width="6.5" stroke-linejoin="round"/>
<line x1="1143" y1="637.1" x2="1205.2" y2="637.1" stroke="#4472c4" stroke-width="7" stroke-linecap="round"/>
<text x="1210.86" y="644.30" style="font-size:25.5px;stroke:#4a4a4a;stroke-width:0.35px" textLength="93.00" lengthAdjust="spacingAndGlyphs">Equality</text>
<line x1="1340.3" y1="637.1" x2="1402" y2="637.1" stroke="#ed7d31" stroke-width="7" stroke-linecap="round"/>
<text x="1407.99" y="644.50" style="font-size:25.5px;stroke:#4a4a4a;stroke-width:0.35px" textLength="78.69" lengthAdjust="spacingAndGlyphs">Lorenz</text>
<text x="1491.29" y="644.50" style="font-size:25.5px;stroke:#4a4a4a;stroke-width:0.35px" textLength="68.65" lengthAdjust="spacingAndGlyphs">Curve</text>
<text x="941.81" y="28.20" style="font-size:31.5px;font-weight:bold;fill:#000" textLength="23.68" lengthAdjust="spacingAndGlyphs">B</text>
</svg>
</body></html>
